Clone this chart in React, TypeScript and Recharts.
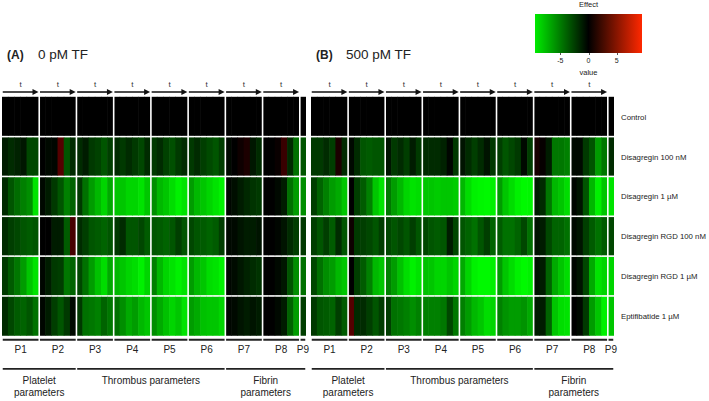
import React from 'react';
import { ScatterChart, Scatter, XAxis, YAxis, ReferenceLine } from 'recharts';

// rows of the heatmap
const rowNames = [
  'Control',
  'Disagregin 100 nM',
  'Disagregin 1 µM',
  'Disagregin RGD 100 nM',
  'Disagregin RGD 1 µM',
  'Eptifibatide 1 µM',
];

const paramNames = ['P1', 'P2', 'P3', 'P4', 'P5', 'P6', 'P7', 'P8', 'P9'];
const paramSizes = [6, 6, 6, 6, 6, 6, 6, 6, 1]; // time points per parameter
const groupNames = [['Platelet', 'parameters'], ['Thrombus parameters'], ['Fibrin', 'parameters']];
const groupParams = [[0, 1], [2, 5], [6, 8]]; // first / last parameter of each group

const colorTicks = [-5, 0, 5];
const colorMin = -9.5;
const colorMax = 9.5;

// (A) 0 pM TF
const a_control = [
  0, 0, 0, 0, 0, 0, 0, 0, 0, 0, 0, 0, 0, 0, 0, 0, 0, 0, 0, 0, 0, 0, 0, 0,
  0, 0, 0, 0, 0, 0, 0, 0, 0, 0, 0, 0, 0, 0, 0, 0, 0, 0, 0, 0, 0, 0, 0, 0, 0,
];
const a_dis100 = [
  -1, -1.5, -1.2, -0.8, -2.5, -2.5,
  0, -0.3, -0.2, 3, -3, -1.5,
  -1.5, -1, -2, -2.3, -3, -2.2,
  -1.5, -2, -1.5, -2, -2.5, -1.5,
  -2, -1.5, -2.3, -2.8, -2, -1.5,
  -2, -1.5, -2.2, -2.6, -3, -2.2,
  -0.3, 0, 0.5, 1, -0.8, -1.5,
  0, 0, 0.3, 2, -1.5, -4,
  -3,
];
const a_dis1 = [
  -1.5, -3, -3.8, -4.5, -5, -8,
  -0.3, -1, -2, -3, -4.5, -3.5,
  -2, -4, -5.5, -6.5, -7.5, -6,
  -7, -7, -7.5, -7.5, -8, -7,
  -5, -6.5, -7, -7.8, -8.5, -8,
  -5.5, -6.5, -7, -7.5, -8, -8.5,
  -0.2, -0.5, -1, -1.4, -1.8, -2,
  0, 0, -0.3, -1, -4, -5.5,
  -5,
];
const a_rgd100 = [
  -1.5, -2.2, -2.5, -3, -3.2, -3,
  0, 0, -1, -1, -3.2, 2.5,
  -1.5, -2.2, -3, -3.2, -3.5, -3,
  -2, -1.5, -3, -3, -2.5, -3.2,
  -3, -3.2, -3.5, -3, -2.2, -3,
  -2.5, -3, -3.2, -3.5, -3.2, -2.2,
  -0.3, -0.3, -0.7, -1, -1, -0.7,
  0, 0, -0.2, -0.7, -1.5, -2.2,
  -2,
];
const a_rgd1 = [
  -2, -3.2, -4.2, -5.5, -7, -8,
  -0.2, -1, -2, -2.2, -4.2, -3.5,
  -2.5, -4, -5.5, -6.8, -7.8, -6,
  -6.5, -7, -7.5, -7.8, -8.5, -7.5,
  -4.5, -6.5, -7.5, -8, -8.5, -8,
  -5.5, -6.5, -7, -7.8, -8, -8.5,
  -0.2, -0.4, -0.8, -1.2, -1.5, -1.8,
  0, 0, -0.3, -0.8, -3, -5,
  -4,
];
const a_epti = [
  -1.5, -2.5, -3.2, -3.5, -3, -4,
  -0.2, -1, -2.2, -3, -2, -0.3,
  -2, -4, -4.2, -4.5, -3.5, -4.2,
  -4, -5, -6, -5.5, -6.5, -7,
  -5, -6, -6.8, -7.5, -7, -8,
  -5.5, -6, -6.8, -7, -7, -7.5,
  -0.2, -0.3, -0.7, -1, -0.7, -1,
  0, 0, -0.3, -1, -3.5, -5.5,
  -2.2,
];

// (B) 500 pM TF
const b_control = [
  0, 0, 0, 0, 0, 0, 0, 0, 0, 0, 0, 0, 0, 0, 0, 0, 0, 0, 0, 0, 0, 0, 0, 0,
  0, 0, 0, 0, 0, 0, 0, 0, 0, 0, 0, 0, 0, 0, 0, 0, 0, 0, 0, 0, 0, 0, 0, 0, 0,
];
const b_dis100 = [
  -2, -2, -1.5, -2.2, 1, -1.5,
  -0.3, -1.5, -3, -3.2, -3, -3,
  -0.7, -2, -1.5, -2.2, -1, -2,
  -1.5, -1.5, -1.5, -1.2, -0.2, -2,
  -0.7, -1.5, -2.2, -1.5, -0.7, -2,
  -2.2, -3, -2.5, -2, -0.3, -2.2,
  0.8, 0.2, -1, -4.2, -4.2, -4.5,
  -0.3, -0.3, -2, -3, -5.5, -4.2,
  -1.5,
];
const b_dis1 = [
  -2.2, -3.5, -4.5, -5.5, -6, -7,
  0, -2.2, -3.2, -4.5, -7, -8,
  -4.2, -5.5, -6.5, -7.5, -8, -7.8,
  -7, -7, -7.2, -7, -7, -7.2,
  -6.5, -7.8, -8.5, -8.7, -8.8, -8.5,
  -5.5, -7, -7.8, -8.5, -8.8, -8.7,
  -1, -1.5, -4.2, -6.5, -7, -7.8,
  -0.2, -0.7, -3, -6.5, -8.5, -7,
  -8,
];
const b_rgd100 = [
  -2.2, -3, -2.2, -3.2, -1.5, -3,
  0.5, -2, -2.2, -2.5, -3, -2.2,
  -2.5, -3, -2.5, -3, -2.2, -3,
  -2.5, -3, -3.2, -3, -1, -2.5,
  -3, -3.5, -4, -3, -2.2, -3.5,
  -3.2, -4, -4, -3.5, -2.5, -4,
  -0.7, -1, -2.5, -3.5, -3.5, -4,
  -0.3, -0.7, -2.2, -3.2, -4, -3.2,
  -2.5,
];
const b_rgd1 = [
  -2.5, -4, -5, -5.5, -6.5, -7,
  0, -2.2, -3.2, -4.5, -6.5, -7,
  -4.5, -5.5, -6.8, -7.8, -8.5, -8,
  -6.8, -7, -7.5, -7.5, -7, -7.5,
  -6, -7.5, -8.5, -8.8, -8.8, -8.5,
  -5.5, -7, -7.8, -8.5, -8.8, -8.5,
  -0.7, -1, -3.5, -6, -7, -7.8,
  -0.2, -0.7, -2.5, -6, -8, -7.5,
  -7.5,
];
const b_epti = [
  -2, -3, -3.2, -3.5, -2.2, -3.2,
  3, -1.5, -1.5, -2.2, -3, -2.2,
  -2.2, -4, -4.2, -4.5, -5, -4.5,
  -4.5, -4.5, -4.5, -4.2, -2.5, -4.2,
  -4.5, -5.5, -6.5, -7, -7.8, -7.5,
  -4.5, -5.2, -5.5, -5.5, -5.2, -6,
  -1, -1, -3.5, -7, -7.8, -8,
  0, -0.3, -2, -5.5, -7, -8.5,
  -7,
];

const panelA = [a_control, a_dis100, a_dis1, a_rgd100, a_rgd1, a_epti];
const panelB = [b_control, b_dis100, b_dis1, b_rgd100, b_rgd1, b_epti];

const FONT = '"Liberation Sans", Arial, sans-serif';
const Y_DOMAIN: [number, number] = [-1.2, 7.6];
const CHART_H = 401;
const MARGIN_TOP = 49;
const MARGIN_BOTTOM = 1.5;
const NAMES_W = 95;
const GAP = 0.8; // half width of the white separators

const colorOf = (v: number) => {
  const c = Math.round(Math.min(1, Math.abs(v) / 9) * 255);
  return v < 0 ? `rgb(0,${c},0)` : `rgb(${c},0,0)`;
};

const paramStarts = paramSizes.map((_, k) => paramSizes.slice(0, k).reduce((a, b) => a + b, 0));
const nCols = paramSizes.reduce((a, b) => a + b, 0);

const arrowShape = (props: any) => {
  const { x1, y1, x2, y2 } = props;
  return (
    <g>
      <line x1={x1} y1={y1} x2={x2 - 4} y2={y2} stroke="#111" strokeWidth={1.6} />
      <polygon points={`${x2},${y2} ${x2 - 6},${y2 - 3} ${x2 - 6},${y2 + 3}`} fill="#111" />
      <text x={(x1 + x2) / 2} y={y1 - 5} textAnchor="middle" fontSize={8} fill="#333" fontFamily={FONT}>t</text>
    </g>
  );
};

const labelledBar = (lines: string[], dy: number, width: number) => (props: any) => {
  const { x1, y1, x2, y2 } = props;
  return (
    <g>
      <line x1={x1} y1={y1} x2={x2} y2={y2} stroke="#222" strokeWidth={width} />
      {lines.map((s, i) => (
        <text key={i} x={(x1 + x2) / 2} y={y1 + dy + i * 12} textAnchor="middle" fontSize={10} fill="#222" fontFamily={FONT}>
          {s}
        </text>
      ))}
    </g>
  );
};

const rowTick = (props: any) => {
  const { x, y, payload } = props;
  return (
    <text x={x} y={y} dy={3} textAnchor="start" fontSize={7.8} fill="#222" fontFamily={FONT}>
      {rowNames[Math.floor(payload.value)]}
    </text>
  );
};

const Panel = ({ rows, width, showNames }: { rows: number[][]; width: number; showNames: boolean }) => {
  const plotW = width - (showNames ? NAMES_W : 0);
  const cellW = plotW / nCols;
  const cellH = (CHART_H - MARGIN_TOP - MARGIN_BOTTOM) / (Y_DOMAIN[1] - Y_DOMAIN[0]);
  const cellShape = (p: any) => {
    const { col, row, v } = p.payload;
    const gl = col > 0 && paramStarts.includes(col) ? GAP : -0.3;
    const gr = col < nCols - 1 && paramStarts.includes(col + 1) ? GAP : -0.3;
    const gt = row > 0 ? GAP : 0;
    const gb = row < rows.length - 1 ? GAP : 0;
    return (
      <rect
        x={p.cx - cellW / 2 + gl}
        y={p.cy - cellH / 2 + gt}
        width={cellW - gl - gr}
        height={cellH - gt - gb}
        fill={colorOf(v)}
      />
    );
  };
  return (
    <ScatterChart width={width} height={CHART_H} margin={{ top: MARGIN_TOP, right: 0, bottom: MARGIN_BOTTOM, left: 0 }}>
      <XAxis type="number" dataKey="x" domain={[0, nCols]} allowDataOverflow hide />
      {showNames ? (
        <YAxis
          type="number"
          dataKey="y"
          domain={Y_DOMAIN}
          reversed
          allowDataOverflow
          orientation="right"
          width={NAMES_W}
          ticks={rowNames.map((_, i) => i + 0.5)}
          interval={0}
          axisLine={false}
          tickLine={false}
          tickMargin={1}
          tick={rowTick}
        />
      ) : (
        <YAxis type="number" dataKey="y" domain={Y_DOMAIN} reversed allowDataOverflow hide />
      )}
      {rows.map((row, r) => (
        <Scatter
          key={r}
          data={row.map((v, i) => ({ x: i + 0.5, y: r + 0.5, col: i, row: r, v }))}
          shape={cellShape}
          isAnimationActive={false}
        />
      ))}
      {paramStarts.map((s, k) =>
        paramSizes[k] > 1 ? (
          <ReferenceLine
            key={'a' + k}
            segment={[{ x: s + 0.12, y: -0.12 }, { x: s + paramSizes[k] - 0.12, y: -0.12 }]}
            shape={arrowShape}
          />
        ) : null
      )}
      {paramStarts.map((s, k) => (
        <ReferenceLine
          key={'p' + k}
          segment={[{ x: s + 0.12, y: 6.1 }, { x: s + paramSizes[k] - 0.12, y: 6.1 }]}
          shape={labelledBar([paramNames[k]], 13.5, 2)}
        />
      ))}
      {groupParams.map(([p0, p1], g) => (
        <ReferenceLine
          key={'g' + g}
          segment={[
            { x: paramStarts[p0] + 0.12, y: 6.83 },
            { x: paramStarts[p1] + paramSizes[p1] - 0.12, y: 6.83 },
          ]}
          shape={labelledBar(groupNames[g], 15.5, 1.6)}
        />
      ))}
    </ScatterChart>
  );
};

const legendLeft = 535;
const legendWidth = 107;
const legendX = (v: number) => legendLeft + ((v - colorMin) / (colorMax - colorMin)) * legendWidth;

export default function App() {
  return (
    <div style={{ position: 'absolute', left: 0, top: 0, width: 709, height: 401, background: '#fff', fontFamily: FONT, color: '#222' }}>
      <style>{'.recharts-surface { overflow: visible; }'}</style>
      <div style={{ position: 'absolute', left: 2, top: 0 }}>
        <Panel rows={panelA} width={304} showNames={false} />
      </div>
      <div style={{ position: 'absolute', left: 311, top: 0 }}>
        <Panel rows={panelB} width={303 + NAMES_W} showNames />
      </div>

      <div style={{ position: 'absolute', left: 7, top: 48, fontSize: 12, fontWeight: 'bold' }}>(A)</div>
      <div style={{ position: 'absolute', left: 38, top: 47, fontSize: 13.5 }}>0 pM TF</div>
      <div style={{ position: 'absolute', left: 316, top: 48, fontSize: 12, fontWeight: 'bold' }}>(B)</div>
      <div style={{ position: 'absolute', left: 346, top: 47, fontSize: 13.5 }}>500 pM TF</div>

      {/* colour key */}
      <div style={{ position: 'absolute', left: legendLeft, top: 0, width: legendWidth, textAlign: 'center', fontSize: 7.5 }}>Effect</div>
      <div
        style={{
          position: 'absolute',
          left: legendLeft,
          top: 14,
          width: legendWidth,
          height: 39,
          background: 'linear-gradient(to right, rgb(0,235,0) 0%, #000 50%, rgb(255,40,0) 100%)',
        }}
      />
      {colorTicks.map((v) => (
        <React.Fragment key={v}>
          <div style={{ position: 'absolute', left: legendX(v), top: 53, width: 1, height: 2, background: '#555' }} />
          <div style={{ position: 'absolute', left: legendX(v) - 10, top: 57, width: 20, textAlign: 'center', fontSize: 7 }}>{v}</div>
        </React.Fragment>
      ))}
      <div style={{ position: 'absolute', left: legendLeft, top: 68, width: legendWidth, textAlign: 'center', fontSize: 7.5 }}>value</div>
    </div>
  );
}
